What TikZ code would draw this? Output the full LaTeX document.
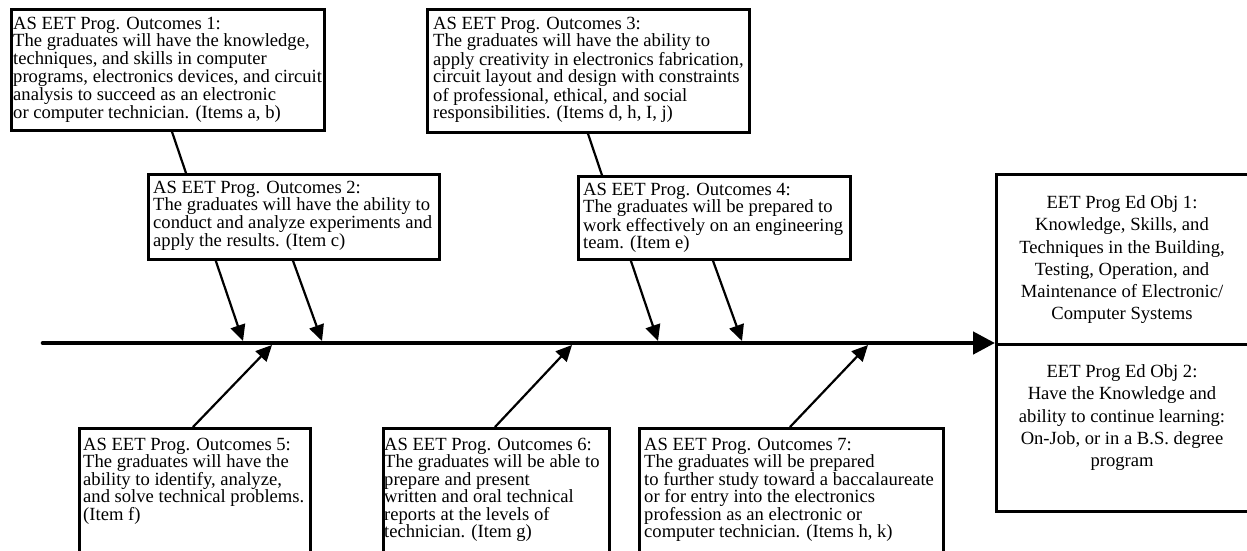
\documentclass[tikz,border=0pt]{standalone}
\usepackage{fontspec}
\setmainfont{Liberation Serif}
\usetikzlibrary{arrows.meta}
\pgfdeclarelayer{background}
\pgfdeclarelayer{canvas}
\pgfsetlayers{canvas,background,main}
\tikzset{
  box/.style={draw=black, line width=2.8pt, fill=white, inner sep=0pt, anchor=north west},
  txt/.style={inner sep=0pt, anchor=north west, align=left, font=\fontsize{18.6}{16.8}\selectfont},
  txtb/.style={inner sep=0pt, anchor=north west, align=left, font=\fontsize{18.6}{17.5}\selectfont},
  txtr/.style={inner sep=0pt, anchor=north, align=center, font=\fontsize{18.6}{22.2}\selectfont},
  feed/.style={line width=2.2pt, -{Triangle[length=16pt,width=15pt]}},
  spine/.style={line width=4.6pt, line cap=round, -{Triangle[length=22pt,width=22pt]}}
}
\begin{document}
\begin{tikzpicture}[x=1pt,y=-1pt]
\useasboundingbox (0,0) rectangle (1247,551);
\clip (0,0) rectangle (1247,551);
\begin{pgfonlayer}{canvas}
\fill[white] (0,0) rectangle (1247,551);
\end{pgfonlayer}
% boxes
\node[box, minimum width=313pt, minimum height=121pt] (b1) at (10,8) {};
\node[box, minimum width=322pt, minimum height=123pt] (b3) at (426,8) {};
\node[box, minimum width=291pt, minimum height=85pt] (b2) at (147,173) {};
\node[box, minimum width=272pt, minimum height=83pt] (b4) at (577,175) {};
\node[box, minimum width=231pt, minimum height=140pt] (b5) at (78,427) {};
\node[box, minimum width=226pt, minimum height=140pt] (b6) at (382,427) {};
\node[box, minimum width=304pt, minimum height=140pt] (b7) at (638,427) {};
\node[box, minimum width=257pt, minimum height=170pt] (r1) at (995,173) {};
\node[box, minimum width=257pt, minimum height=167pt] (r2) at (995,343) {};
% texts
\node[txt] (t1) at (13,16.5) {AS EET Prog. Outcomes 1:\\The graduates will have the knowledge,\\techniques, and skills in computer\\programs, electronics devices, and circuit\\analysis to succeed as an electronic\\or computer technician. (Items a, b)};
\node[txt] (t3) at (433,16.5) {AS EET Prog. Outcomes 3:\\The graduates will have the ability to\\apply creativity in electronics fabrication,\\circuit layout and design with constraints\\of professional, ethical, and social\\responsibilities. (Items d, h, I, j)};
\node[txt] (t2) at (153,180.5) {AS EET Prog. Outcomes 2:\\The graduates will have the ability to\\conduct and analyze experiments and\\apply the results. (Item c)};
\node[txt] (t4) at (583,182.5) {AS EET Prog. Outcomes 4:\\The graduates will be prepared to\\work effectively on an engineering\\team. (Item e)};
\node[txtb] (t5) at (83,437.5) {AS EET Prog. Outcomes 5:\\The graduates will have the\\ability to identify, analyze,\\and solve technical problems.\\(Item f)};
\node[txtb] (t6) at (384,437.5) {AS EET Prog. Outcomes 6:\\The graduates will be able to\\prepare and present\\written and oral technical\\reports at the levels of\\technician. (Item g)};
\node[txtb] (t7) at (644,437.5) {AS EET Prog. Outcomes 7:\\The graduates will be prepared\\to further study toward a baccalaureate\\or for entry into the electronics\\profession as an electronic or\\computer technician. (Items h, k)};
\node[txtr] (tr1) at (1122,195.5) {EET Prog Ed Obj 1:\\Knowledge, Skills, and\\Techniques in the Building,\\Testing, Operation, and\\Maintenance of Electronic/\\Computer Systems};
\node[txtr] (tr2) at (1122,364.5) {EET Prog Ed Obj 2:\\Have the Knowledge and\\ability to continue learning:\\On-Job, or in a B.S. degree\\program};
% spine points
\coordinate (s0) at (43,343);
\coordinate (p1) at (243,341);
\coordinate (p2) at (322,341);
\coordinate (p3) at (658,341);
\coordinate (p4) at (742,341);
\coordinate (p5) at (272,345);
\coordinate (p6) at (572,345);
\coordinate (p7) at (868,345);
\begin{pgfonlayer}{background}
\draw[feed] ([xshift=162pt]b1.south west) -- (p1);
\draw[feed] ([xshift=162pt]b3.south west) -- (p3);
\end{pgfonlayer}
\draw[feed] ([xshift=146pt]b2.south west) -- (p2);
\draw[feed] ([xshift=136pt]b4.south west) -- (p4);
\draw[feed] ([xshift=115pt]b5.north west) -- (p5);
\draw[feed] ([xshift=113pt]b6.north west) -- (p6);
\draw[feed] ([xshift=152pt]b7.north west) -- (p7);
\draw[spine] (s0) -- (r2.north west);
\end{tikzpicture}
\end{document}
